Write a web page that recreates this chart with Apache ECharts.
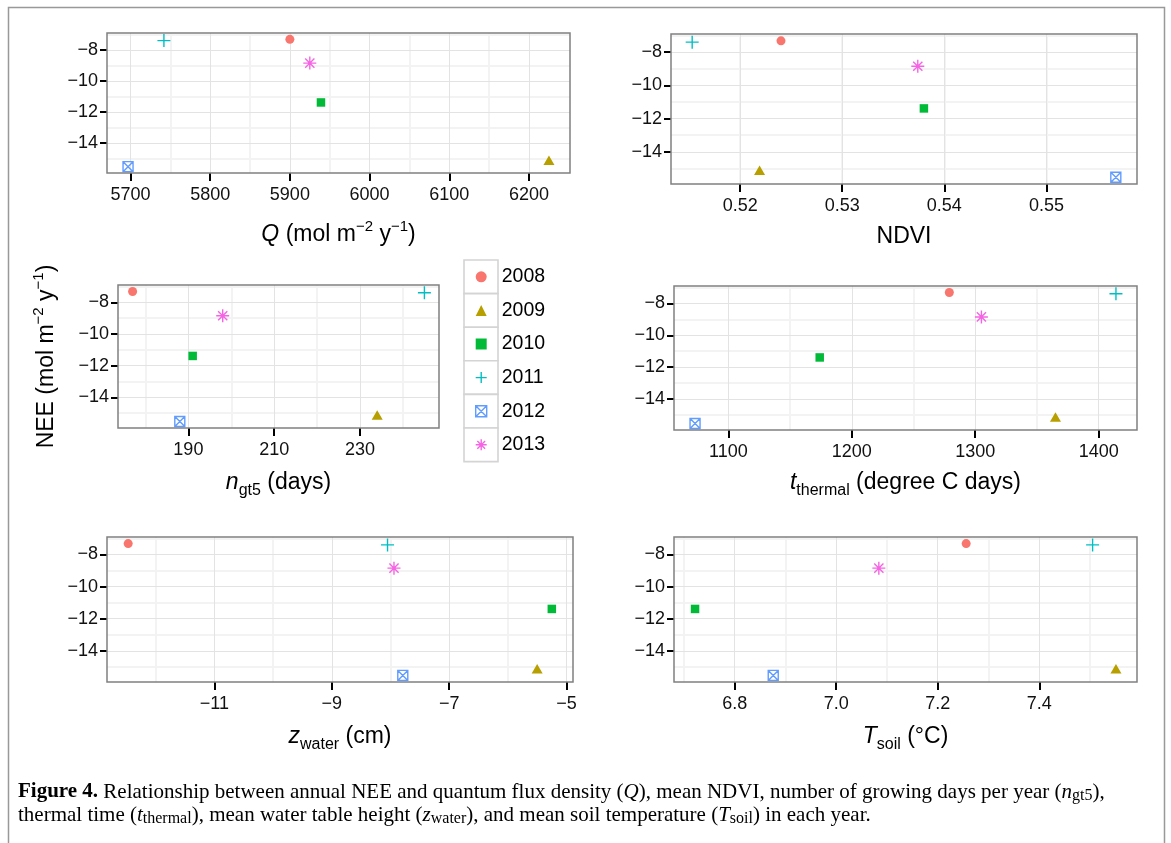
<!DOCTYPE html>
<html><head><meta charset="utf-8">
<script src="https://cdn.jsdelivr.net/npm/echarts@6/dist/echarts.min.js"></script>
<style>html,body{margin:0;padding:0;background:#fff}#c{width:1171px;height:843px}</style>
</head><body><div id="c"></div><script>
// ---- data ----
const years = ['2008','2009','2010','2011','2012','2013'];
const nee = [-7.32, -15.12, -11.39, -7.40, -15.53, -8.85];
const qFlux = [5900, 6225, 5939, 5742, 5697, 5925];
const ndvi = [0.5240, 0.5219, 0.5380, 0.5153, 0.5568, 0.5374];
const ngt5 = [177, 234, 191, 245, 188, 198];
const tThermal = [1279, 1365, 1174, 1414, 1073, 1305];
const zWater = [-12.47, -5.50, -5.25, -8.05, -7.79, -7.94];
const tSoil = [7.256, 7.551, 6.722, 7.505, 6.876, 7.084];

// ---- tick labels ----
const neeTicks = [-14, -12, -10, -8];
const neeMinor = [-15, -13, -11, -9, -7];
const qTicks = [5700, 5800, 5900, 6000, 6100, 6200];
const qMinor = [5750, 5850, 5950, 6050, 6150];
const ndviTicks = [0.52, 0.53, 0.54, 0.55];
const ndviMinor = [0.515, 0.525, 0.535, 0.545, 0.555];
const ngt5Ticks = [190, 210, 230];
const ngt5Minor = [180, 200, 220, 240];
const thermalTicks = [1100, 1200, 1300, 1400];
const thermalMinor = [1150, 1250, 1350];
const waterTicks = [-11, -9, -7, -5];
const waterMinor = [-12, -10, -8, -6];
const soilTicks = [6.8, 7.0, 7.2, 7.4];
const soilMinor = [6.7, 6.9, 7.1, 7.3, 7.5];

// ---- style ----
const SANS = 'Liberation Sans';
const SERIF = 'Liberation Serif';
const colors = ['#F8766D', '#B79F00', '#00BA38', '#00BFC4', '#619CFF', '#F564E3'];
const symbols = ['circle', 'triangle', 'rect',
  'path://M6,0V12M0,6H12',
  'path://M0,0H10V10H0ZM0,0L10,10M10,0L0,10',
  'path://M6,0V12M0,6H12M1.76,1.76L10.24,10.24M10.24,1.76L1.76,10.24'];
const sizes = [9, [11, 9.5], 8.5, 13, 10, 13];
const stroked = [false, false, false, true, true, true];

function padRange(arr) {
  const mn = Math.min(...arr), mx = Math.max(...arr), p = (mx - mn) * 0.05;
  return [mn - p, mx + p];
}
const minus = v => (v < 0 ? '\u2212' + String(Math.abs(v)) : String(v));

const rich = {
  i: {fontFamily: SANS, fontSize: 23, fontStyle: 'italic', lineHeight: 32, color: '#000'},
  sup: {fontFamily: SANS, fontSize: 15, lineHeight: 15, verticalAlign: 'top', color: '#000'},
  sub: {fontFamily: SANS, fontSize: 16, lineHeight: 16, verticalAlign: 'bottom', color: '#000'}
};
const nameStyle = {fontFamily: SANS, fontSize: 23, lineHeight: 32, color: '#000', rich: rich};

const panels = [
  {x: qFlux, ticks: qTicks, minor: qMinor, fmt: v => String(v),
   name: '{i|Q} (mol m{sup|\u22122} y{sup|\u22121})', gap: 46,
   grid: {left: 107, top: 33, width: 463, height: 140}},
  {x: ndvi, ticks: ndviTicks, minor: ndviMinor, fmt: v => v.toFixed(2),
   name: 'NDVI', gap: 37,
   grid: {left: 671, top: 34, width: 466, height: 150}},
  {x: ngt5, ticks: ngt5Ticks, minor: ngt5Minor, fmt: v => String(v),
   name: '{i|n}{sub|gt5} (days)', gap: 39, yName: true,
   grid: {left: 118, top: 285, width: 321, height: 143}},
  {x: tThermal, ticks: thermalTicks, minor: thermalMinor, fmt: v => String(v),
   name: '{i|t}{sub|thermal} (degree C days)', gap: 37,
   grid: {left: 674, top: 286, width: 463, height: 144}},
  {x: zWater, ticks: waterTicks, minor: waterMinor, fmt: minus,
   name: '{i|z}{sub|water} (cm)', gap: 39,
   grid: {left: 107, top: 537, width: 466, height: 145}},
  {x: tSoil, ticks: soilTicks, minor: soilMinor, fmt: v => v.toFixed(1),
   name: '{i|T}{sub|soil} (\u00B0C)', gap: 39,
   grid: {left: 674, top: 537, width: 463, height: 145}}
];

const yRange = padRange(nee);
const grids = [], xAxes = [], yAxes = [], series = [];
const labelStyle = {fontFamily: SANS, fontSize: 18, color: '#111'};
const minorLine = {type: 'solid', color: '#f3f3f3', width: 2};
const majorLine = {type: 'solid', color: '#e3e3e3', width: 1};

panels.forEach((p, idx) => {
  const xr = padRange(p.x);
  grids.push(Object.assign({show: true, borderColor: '#808080', borderWidth: 1.5,
    backgroundColor: 'rgba(0,0,0,0)', z: 10}, p.grid));
  xAxes.push({
    type: 'value', gridIndex: idx, min: xr[0], max: xr[1], position: 'bottom',
    axisLine: {show: false}, splitLine: {show: false},
    axisTick: {show: true, customValues: p.ticks, length: 8, lineStyle: {color: '#000', width: 2}},
    axisLabel: Object.assign({customValues: p.ticks, formatter: p.fmt, margin: 13}, labelStyle),
    name: p.name, nameLocation: 'middle', nameGap: p.gap, nameTextStyle: nameStyle
  });
  yAxes.push({
    type: 'value', gridIndex: idx, min: yRange[0], max: yRange[1], position: 'left',
    axisLine: {show: false}, splitLine: {show: false},
    axisTick: {show: true, customValues: neeTicks, length: 7, lineStyle: {color: '#000', width: 2}},
    axisLabel: Object.assign({customValues: neeTicks, formatter: minus, margin: 9}, labelStyle),
    name: p.yName ? 'NEE (mol m{sup|\u22122} y{sup|\u22121})' : '',
    nameLocation: 'middle', nameGap: 55, nameRotate: 90, nameTextStyle: nameStyle
  });
  const lines = [];
  p.minor.forEach(v => lines.push({xAxis: v, lineStyle: minorLine}));
  neeMinor.forEach(v => lines.push({yAxis: v, lineStyle: minorLine}));
  p.ticks.forEach(v => lines.push({xAxis: v, lineStyle: majorLine}));
  neeTicks.forEach(v => lines.push({yAxis: v, lineStyle: majorLine}));
  series.push({
    type: 'scatter', name: 'gridlines' + idx, xAxisIndex: idx, yAxisIndex: idx, z: 1,
    data: [], silent: true, animation: false,
    markLine: {silent: true, z: 1, symbol: ['none', 'none'], animation: false,
      label: {show: false}, emphasis: {disabled: true}, data: lines}
  });
  years.forEach((yr, k) => {
    series.push({
      type: 'scatter', name: yr, xAxisIndex: idx, yAxisIndex: idx, z: 6,
      data: [[p.x[k], nee[k]]], symbol: symbols[k], symbolSize: sizes[k],
      itemStyle: stroked[k]
        ? {color: 'rgba(0,0,0,0)', borderColor: colors[k], borderWidth: 1.4, opacity: 1}
        : {color: colors[k], borderWidth: 0, opacity: 1},
      emphasis: {disabled: true}, silent: true, animation: false
    });
  });
});

// legend key boxes and figure frame
const graphics = [
  {type: 'rect', silent: true, z: 0, shape: {x: 8.5, y: 7.5, width: 1156, height: 900},
   style: {fill: 'none', stroke: '#999', lineWidth: 1.5}}
];
years.forEach((yr, k) => {
  graphics.push({type: 'rect', silent: true, z: 0,
    shape: {x: 464, y: 260 + 33.6 * k, width: 34, height: 33.6},
    style: {fill: '#fff', stroke: '#d4d4d4', lineWidth: 1.6}});
});

const capRich = {
  b: {fontFamily: SERIF, fontSize: 21, fontWeight: 'bold', lineHeight: 24, fill: '#000'},
  i: {fontFamily: SERIF, fontSize: 21, fontStyle: 'italic', lineHeight: 24, fill: '#000'},
  s: {fontFamily: SERIF, fontSize: 16, lineHeight: 15, verticalAlign: 'bottom', fill: '#000'}
};
const capLine1 = '{b|Figure 4.} Relationship between annual NEE and quantum flux density ({i|Q}), mean NDVI, number of growing days per year ({i|n}{s|gt5}),';
const capLine2 = 'thermal time ({i|t}{s|thermal}), mean water table height ({i|z}{s|water}), and mean soil temperature ({i|T}{s|soil}) in each year.';
graphics.push({type: 'text', silent: true, x: 18, y: 792,
  style: {text: capLine1, rich: capRich, fontFamily: SERIF, fontSize: 21, lineHeight: 24, fill: '#000', verticalAlign: 'middle'}});
graphics.push({type: 'text', silent: true, x: 18, y: 815,
  style: {text: capLine2, rich: capRich, fontFamily: SERIF, fontSize: 21, lineHeight: 24, fill: '#000', verticalAlign: 'middle'}});

const chart = echarts.init(document.getElementById('c'), null, {renderer: 'canvas'});
chart.setOption({
  animation: false,
  backgroundColor: '#fff',
  textStyle: {fontFamily: SANS},
  grid: grids, xAxis: xAxes, yAxis: yAxes, series: series,
  legend: {
    orient: 'vertical', left: 475, top: 266.8, padding: 0, itemGap: 13.6,
    itemWidth: 11, itemHeight: 11, data: years, selectedMode: false,
    itemStyle: {borderWidth: 'inherit', opacity: 1},
    textStyle: {fontFamily: SANS, fontSize: 19.5, color: '#000', lineHeight: 20, padding: [0, 0, 0, 10]}
  },
  graphic: graphics
});
</script></body></html>
